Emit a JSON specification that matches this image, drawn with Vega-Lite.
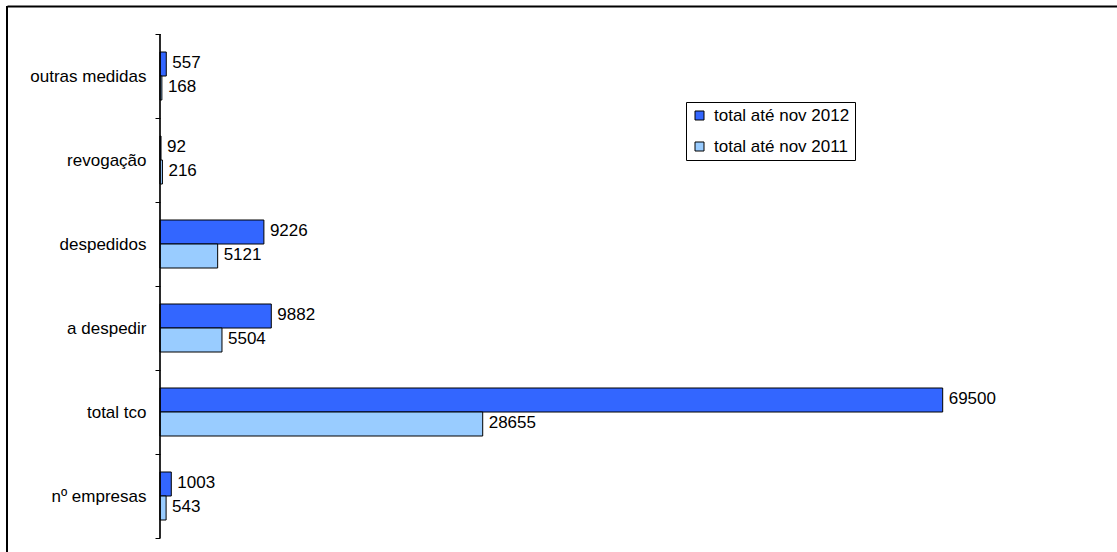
{
  "$schema": "https://vega.github.io/schema/vega-lite/v6.json",
  "autosize": "none",
  "width": 1110,
  "height": 546,
  "padding": {"left": 7, "top": 6, "right": 0, "bottom": 0},
  "background": "white",
  "config": {
    "view": {"stroke": null},
    "font": "Liberation Sans"
  },
  "data": {
    "values": [
      {"categoria": "outras medidas", "serie": "total até nov 2012", "valor": 557},
      {"categoria": "outras medidas", "serie": "total até nov 2011", "valor": 168},
      {"categoria": "revogação", "serie": "total até nov 2012", "valor": 92},
      {"categoria": "revogação", "serie": "total até nov 2011", "valor": 216},
      {"categoria": "despedidos", "serie": "total até nov 2012", "valor": 9226},
      {"categoria": "despedidos", "serie": "total até nov 2011", "valor": 5121},
      {"categoria": "a despedir", "serie": "total até nov 2012", "valor": 9882},
      {"categoria": "a despedir", "serie": "total até nov 2011", "valor": 5504},
      {"categoria": "total tco", "serie": "total até nov 2012", "valor": 69500},
      {"categoria": "total tco", "serie": "total até nov 2011", "valor": 28655},
      {"categoria": "nº empresas", "serie": "total até nov 2012", "valor": 1003},
      {"categoria": "nº empresas", "serie": "total até nov 2011", "valor": 543}
    ]
  },
  "layer": [
    {
      "mark": {"type": "bar", "stroke": "black", "strokeWidth": 1},
      "encoding": {
        "y": {
          "field": "categoria",
          "type": "nominal",
          "sort": ["outras medidas", "revogação", "despedidos", "a despedir", "total tco", "nº empresas"],
          "scale": {"paddingInner": 0, "paddingOuter": 0.25, "align": 0.6667},
          "axis": {
            "title": null,
            "offset": -153,
            "domain": false,
            "tickBand": "extent",
            "tickSize": 5,
            "tickColor": "black",
            "tickWidth": 1,
            "labelFontSize": 17,
            "labelColor": "black",
            "labelPadding": 9,
            "labelFont": "Liberation Sans"
          }
        },
        "x": {
          "field": "valor",
          "type": "quantitative",
          "stack": null,
          "scale": {"domain": [-13585, 84977], "nice": false, "zero": false},
          "axis": {
            "orient": "top",
            "title": null,
            "labels": false,
            "ticks": false,
            "grid": false,
            "domain": true,
            "domainColor": "black",
            "domainWidth": 2
          }
        },
        "yOffset": {
          "field": "serie",
          "type": "nominal",
          "sort": ["total até nov 2012", "total até nov 2011"],
          "scale": {"paddingInner": 0, "paddingOuter": 0.75}
        },
        "color": {
          "field": "serie",
          "type": "nominal",
          "sort": ["total até nov 2012", "total até nov 2011"],
          "scale": {"domain": ["total até nov 2012", "total até nov 2011"], "range": ["#3366FF", "#99CCFF"]},
          "legend": {
            "title": null,
            "orient": "none",
            "legendX": 679,
            "legendY": 96,
            "strokeColor": "black",
            "fillColor": "white",
            "padding": 5,
            "symbolType": "square",
            "symbolSize": 81,
            "symbolStrokeColor": "black",
            "symbolStrokeWidth": 1,
            "symbolOpacity": 1,
            "labelFontSize": 17,
            "labelFont": "Liberation Sans",
            "labelColor": "black",
            "labelOffset": 6,
            "rowPadding": 13
          }
        }
      }
    },
    {
      "mark": {"type": "text", "align": "left", "baseline": "middle", "dx": 6, "dy": -1, "fontSize": 17, "font": "Liberation Sans", "color": "black"},
      "encoding": {
        "y": {"field": "categoria", "type": "nominal", "sort": ["outras medidas", "revogação", "despedidos", "a despedir", "total tco", "nº empresas"]},
        "x": {"field": "valor", "type": "quantitative", "stack": null},
        "yOffset": {"field": "serie", "type": "nominal", "sort": ["total até nov 2012", "total até nov 2011"]},
        "text": {"field": "valor", "type": "quantitative", "format": "d"}
      }
    },
    {
      "mark": {"type": "tick", "orient": "vertical", "size": 84, "thickness": 1.2, "color": "black", "opacity": 1},
      "encoding": {
        "y": {"field": "categoria", "type": "nominal", "sort": ["outras medidas", "revogação", "despedidos", "a despedir", "total tco", "nº empresas"]},
        "x": {"datum": 0, "type": "quantitative"}
      }
    },
    {
      "data": {"values": [{"borda": "esquerda"}]},
      "mark": {"type": "rule", "color": "black", "strokeWidth": 2},
      "encoding": {
        "x": {"datum": -13585, "type": "quantitative"}
      }
    }
  ]
}
